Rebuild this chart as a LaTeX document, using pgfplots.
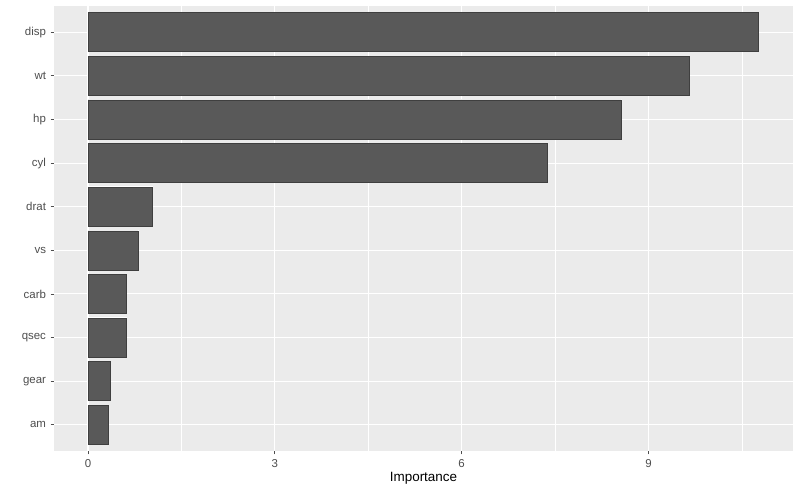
\documentclass[border=0pt]{standalone}
\usepackage{pgfplots}
\pgfplotsset{compat=1.18}
\usepackage{fontspec}
\setmainfont{Liberation Sans}
\definecolor{panel}{HTML}{EBEBEB}
\definecolor{barfill}{HTML}{595959}
\definecolor{baredge}{HTML}{3F3F3F}
\definecolor{tickgray}{HTML}{4D4D4D}
\begin{document}
\begin{tikzpicture}
\useasboundingbox (0,0) rectangle (800bp,493bp);
\begin{axis}[
    at={(54bp,42bp)}, anchor=south west,
    scale only axis,
    width=739bp, height=445bp,
    xbar, bar width=39bp, bar shift=0pt,
    xmin=-0.546, xmax=11.32,
    ymin=0.4, ymax=10.6,
    axis background/.style={fill=panel},
    axis line style={draw=none},
    xtick={0,3,6,9},
    minor xtick={1.5,4.5,7.5,10.5},
    ytick={1,...,10},
    yticklabels={am,gear,qsec,carb,vs,drat,cyl,hp,wt,disp},
    xtick pos=bottom, ytick pos=left,
    grid=both,
    major grid style={white, line width=1.1bp},
    minor grid style={white, line width=0.55bp},
    tick align=outside,
    major tick length=3.5bp,
    minor tick length=0pt,
    tick style={tickgray, line width=0.8bp},
    tick label style={font=\fontsize{11.5}{13}\selectfont, text=tickgray},
    xticklabel style={yshift=-1bp},
    yticklabel style={xshift=-1bp},
    xlabel={Importance},
    xlabel style={font=\fontsize{13.5}{15}\selectfont, yshift=2bp},
    /pgf/number format/assume math mode=true,
]
\addplot[fill=barfill, draw=white, line width=1.4bp, postaction={draw=baredge, line width=0.6bp}] coordinates {
    (0.32,1) (0.35,2) (0.61,3) (0.61,4) (0.80,5)
    (1.04,6) (7.38,7) (8.57,8) (9.65,9) (10.77,10)
};
\end{axis}
\end{tikzpicture}
\end{document}
